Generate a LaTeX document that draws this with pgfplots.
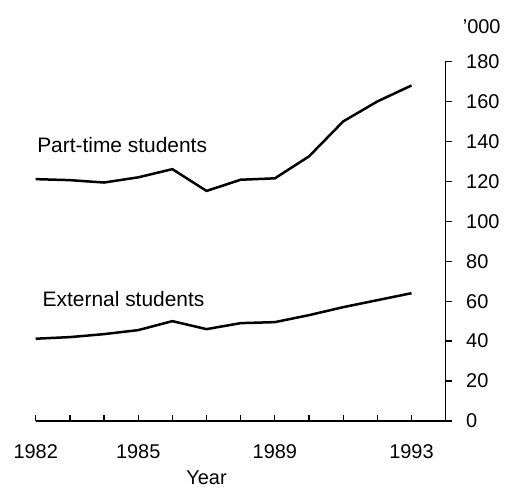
\documentclass[border=0pt]{standalone}
\usepackage{pgfplots}
\pgfplotsset{compat=1.18}
\usepackage{fontspec}
\setmainfont{Liberation Sans}
\begin{document}
\begin{tikzpicture}[x=1bp,y=1bp]
\useasboundingbox (-35.7bp,-69bp) rectangle (471.3bp,421bp);
\begin{axis}[
  at={(0,0)}, anchor=south west,
  scale only axis, width=410bp, height=359.5bp,
  xmin=1982, xmax=1994, ymin=0, ymax=180,
  axis x line*=bottom, axis y line*=right,
  axis line style={line width=1.3bp, -},
  every tick/.style={line width=1.3bp, black},
  xtick={1982,...,1994},
  xticklabels={1982,,,1985,,,,1989,,,,1993,},
  ytick={0,20,...,180},
  major tick length=6bp,
  xtick align=inside, ytick align=outside,
  /pgf/number format/assume math mode=true,
  tick label style={font=\fontsize{20}{24}\selectfont},
  yticklabel style={xshift=11bp},
  xticklabel style={yshift=-20bp},
  clip=false,
]
\addplot[black, line width=2.5bp] coordinates {
(1982,121.1) (1983,120.6) (1984,119.4) (1985,122) (1986,126.1) (1987,115.2)
(1988,120.8) (1989,121.5) (1990,132.5) (1991,150) (1992,160) (1993,168)};
\addplot[black, line width=2.5bp] coordinates {
(1982,41.2) (1983,42) (1984,43.5) (1985,45.5) (1986,50) (1987,46)
(1988,49) (1989,49.5) (1990,53) (1991,57) (1992,60.5) (1993,64)};
\node[anchor=west, inner sep=0pt, font=\fontsize{21}{25}\selectfont] at (axis cs:1982.04,138) {Part-time students};
\node[anchor=west, inner sep=0pt, font=\fontsize{21}{25}\selectfont] at (axis cs:1982.2,61.3) {External students};
\node[anchor=west, inner sep=0pt, font=\fontsize{20}{24}\selectfont] at (axis cs:1994,180) [xshift=17bp, yshift=35bp] {'000};
\node[inner sep=0pt, font=\fontsize{20}{24}\selectfont] at (axis cs:1987,0) [yshift=-57bp] {Year};
\end{axis}
\end{tikzpicture}
\end{document}
